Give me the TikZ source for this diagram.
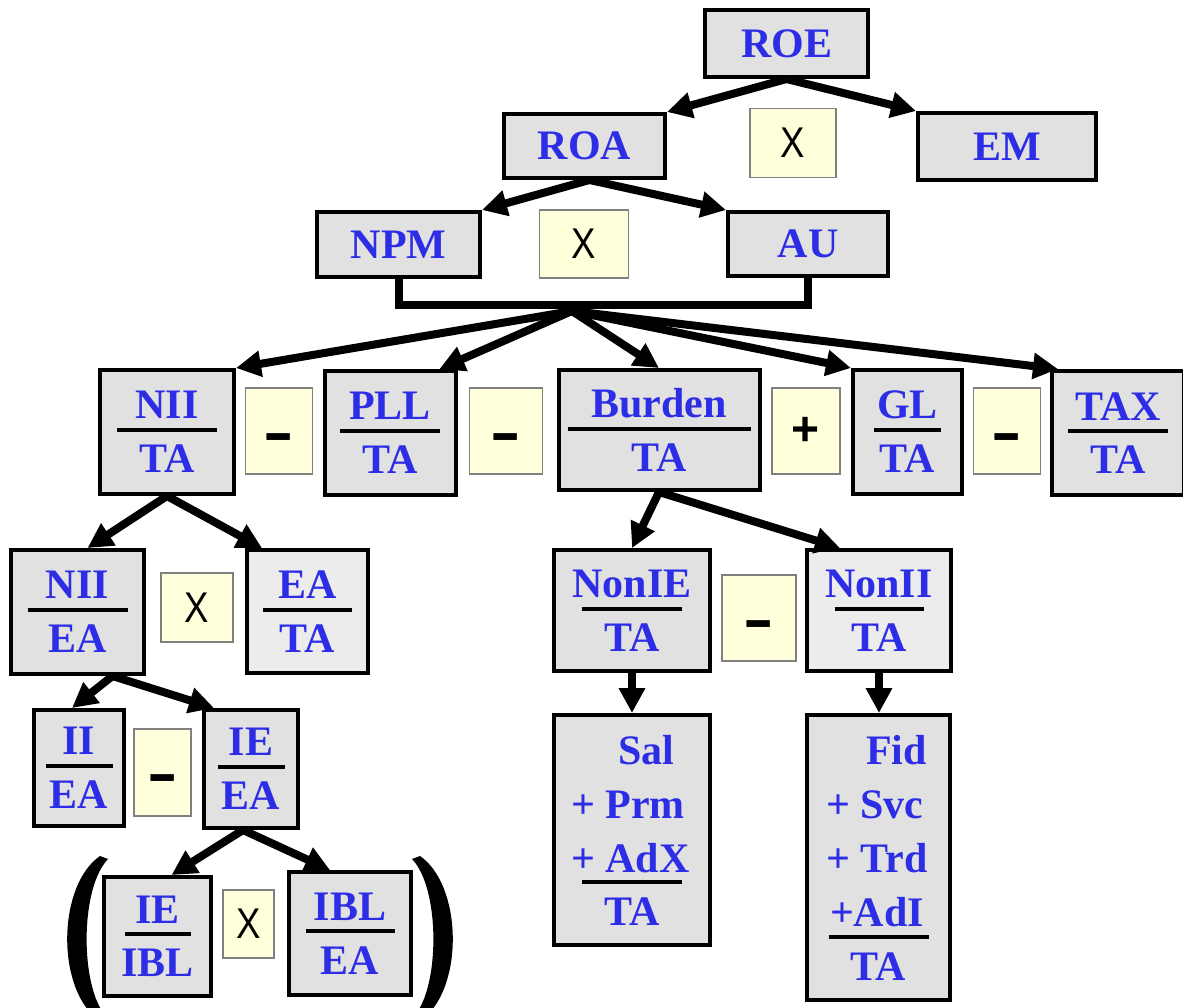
\documentclass[tikz,border=0pt]{standalone}
\usepackage{fontspec}
\setmainfont{Liberation Serif}
\newfontfamily\opfont{Liberation Sans}
\usepackage{graphicx}
\usetikzlibrary{arrows.meta,calc}

\definecolor{labelblue}{RGB}{45,45,230}
\definecolor{boxgray}{RGB}{225,225,225}
\definecolor{boxlight}{RGB}{236,236,236}
\definecolor{opfill}{RGB}{255,255,220}
\definecolor{opedge}{RGB}{128,128,128}

% ratio: numerator, black bar of given width, denominator
\newcommand\frc[3]{\vbox{\offinterlineskip\halign{\hfil##\hfil\cr #2\cr
  \noalign{\kern9pt}{\color{black}\rule{#1}{4pt}}\cr\noalign{\kern13pt}#3\cr}}}
% rows of the stacked sums
\newcommand\stackrow[2]{\hbox to #1{\vrule height30pt depth24pt width0pt #2\hss}}
\newcommand\lastrow[2]{\hbox to #1{\vrule height30pt depth8pt width0pt #2\hss}}
\newcommand\ruledrow[3]{\hbox to #1{\hss{\color{black}\rule{#2}{4pt}}\hss}\kern14pt
  \hbox to #1{\hss #3\hss}}
% operator glyphs
\newcommand\opX{\scalebox{0.85}[1]{X}}
\newcommand\opminus{\raisebox{-24pt}{\scalebox{1.1}[1.6]{\bfseries –}}}
\newcommand\opplus{{\fontsize{48}{50}\selectfont\bfseries +}}

\begin{document}
\begin{tikzpicture}[x=1pt,y=-1pt,
  gbox/.style={draw=black, line width=4pt, fill=boxgray, text=labelblue, inner sep=0pt,
    font=\bfseries\fontsize{42}{50}\selectfont},
  opbox/.style={draw=opedge, line width=1.2pt, fill=opfill, text=black, inner sep=0pt,
    font=\opfont\fontsize{43}{50}\selectfont},
  minusbox/.style={opbox, text height=0pt, text depth=0pt},
  arr/.style={line width=8pt, -{Triangle[length=25pt,width=25pt]}},
  bar/.style={line width=8pt}]

\useasboundingbox (0,0) rectangle (1183,1007);
\clip (0,0) rectangle (1183,1007);

% top levels
\node[gbox, minimum width=163pt, minimum height=67pt] (roe) at (786.5,43.5) {ROE};
\node[gbox, minimum width=161pt, minimum height=64pt] (roa) at (584.5,146) {ROA};
\node[gbox, minimum width=178pt, minimum height=67pt] (em) at (1007,146.5) {EM};
\node[opbox, minimum width=86pt, minimum height=69pt] (x1) at (793,143) {\opX};

\node[gbox, minimum width=163pt, minimum height=65pt] (npm) at (398.5,244.5) {NPM};
\node[gbox, minimum width=160pt, minimum height=64pt] (au) at (808,244) {AU};
\node[opbox, minimum width=89pt, minimum height=68pt] (x2) at (584,244) {\opX};

% ratio row
\node[gbox, minimum width=134pt, minimum height=124pt] (niita) at (167,432) {\frc{100pt}{NII}{TA}};
\node[minusbox, minimum width=67pt, minimum height=86pt] (m1) at (279,431) {\opminus};
\node[gbox, minimum width=131pt, minimum height=124pt] (pllta) at (390,433) {\frc{100pt}{PLL}{TA}};
\node[minusbox, minimum width=73pt, minimum height=86pt] (m2) at (506,431) {\opminus};
\node[gbox, minimum width=201pt, minimum height=120pt] (burta) at (659,430) {\frc{183pt}{Burden}{TA}};
\node[opbox, minimum width=68pt, minimum height=86pt] (p1) at (806,431) {\opplus};
\node[gbox, minimum width=109pt, minimum height=124pt] (glta) at (907.5,432) {\frc{67pt}{GL}{TA}};
\node[minusbox, minimum width=67pt, minimum height=86pt] (m3) at (1007,431) {\opminus};
\node[gbox, minimum width=132pt, minimum height=124pt] (taxta) at (1118,433) {\frc{100pt}{TAX}{TA}};

% left branch
\node[gbox, minimum width=133pt, minimum height=124pt] (niiea) at (77.5,612) {\frc{100pt}{NII}{EA}};
\node[opbox, minimum width=72pt, minimum height=69pt] (x3) at (197,607.5) {\opX};
\node[gbox, fill=boxlight, minimum width=121pt, minimum height=123pt] (eata) at (307.5,611.5) {\frc{89pt}{EA}{TA}};

\node[gbox, minimum width=90pt, minimum height=116pt] (iiea) at (79,768) {\frc{67pt}{II}{EA}};
\node[minusbox, minimum width=57pt, minimum height=87pt] (m5) at (162.5,772.5) {\opminus};
\node[gbox, minimum width=94pt, minimum height=118pt] (ieea) at (251,769) {\frc{67pt}{IE}{EA}};

\node[gbox, minimum width=107pt, minimum height=119pt] (ieibl) at (157.5,936.5) {\frc{66pt}{IE}{IBL}};
\node[opbox, minimum width=51pt, minimum height=68pt] (x4) at (248.5,924) {\opX};
\node[gbox, minimum width=122pt, minimum height=123pt] (iblea) at (350,933.5) {\frc{89pt}{IBL}{EA}};

% burden branch
\node[gbox, minimum width=156pt, minimum height=121pt] (nonie) at (632,610.5) {\frc{100pt}{NonIE}{TA}};
\node[minusbox, minimum width=74pt, minimum height=86pt] (m4) at (759,618) {\opminus};
\node[gbox, fill=boxlight, minimum width=144pt, minimum height=121pt] (nonii) at (879,610.5) {\frc{89pt}{NonII}{TA}};

\node[gbox, minimum width=156pt, minimum height=230pt] (sal) at (632,830)
  {\vbox{\offinterlineskip
    \stackrow{122pt}{\hspace*{47pt}Sal}
    \stackrow{122pt}{+ Prm}
    \lastrow{122pt}{+ AdX}
    \ruledrow{122pt}{100pt}{TA}}};
\node[gbox, minimum width=143pt, minimum height=285pt] (fid) at (878.5,857.5)
  {\vbox{\offinterlineskip
    \stackrow{105pt}{\hspace*{40pt}Fid}
    \stackrow{105pt}{+ Svc}
    \stackrow{105pt}{+ Trd}
    \lastrow{105pt}{\hspace*{4pt}+AdI}
    \ruledrow{105pt}{100pt}{TA}}};

% connectors
\coordinate (j) at (572,305);
\coordinate (fan) at (572,311);
\draw[arr] (roe.south) -- (roa.north east);
\draw[arr] (roe.south) -- (em.north west);
\draw[arr] ($(roa.south)+(5,0)$) -- (npm.north east);
\draw[arr] ($(roa.south)+(5,0)$) -- (au.north west);
\draw[bar] (npm.south) |- (j) -| (au.south);

\draw[arr] (fan) -- (niita.north east);
\draw[arr] (fan) -- ($(pllta.north east)+(-18,0)$);
\draw[arr] (fan) -- (burta.north);
\draw[arr] (fan) -- (glta.north west);
\draw[arr] (fan) -- ($(taxta.north west)+(8,0)$);

\draw[arr] (niita.south) -- ($(niiea.north)+(10,0)$);
\draw[arr] (niita.south) -- ($(eata.north west)+(17,0)$);
\draw[arr] ($(niiea.south)+(35,0)$) -- ($(iiea.north)+(-7,0)$);
\draw[arr] ($(niiea.south)+(35,0)$) -- ($(ieea.north west)+(12,0)$);
\draw[arr] ($(ieea.south)+(-8,0)$) -- ($(ieibl.north)+(14,0)$);
\draw[arr] ($(ieea.south)+(-8,0)$) -- ($(iblea.north)+(-20,0)$);

\draw[arr] (burta.south) -- (nonie.north);
\draw[arr] (burta.south) -- ($(nonii.north west)+(35,0)$);
\draw[arr] (nonie.south) -- (nonie.south |- sal.north);
\draw[arr] (nonii.south) -- (nonii.south |- fid.north);

% parentheses round the last product
\fill (100,856) .. controls (58,885) and (56,985) .. (96,1018) -- (105,1015)
  .. controls (80,985) and (80,888) .. (108,859) -- cycle;
\fill (420,856) .. controls (462,885) and (464,985) .. (424,1018) -- (415,1015)
  .. controls (440,985) and (440,888) .. (412,859) -- cycle;
\end{tikzpicture}
\end{document}
